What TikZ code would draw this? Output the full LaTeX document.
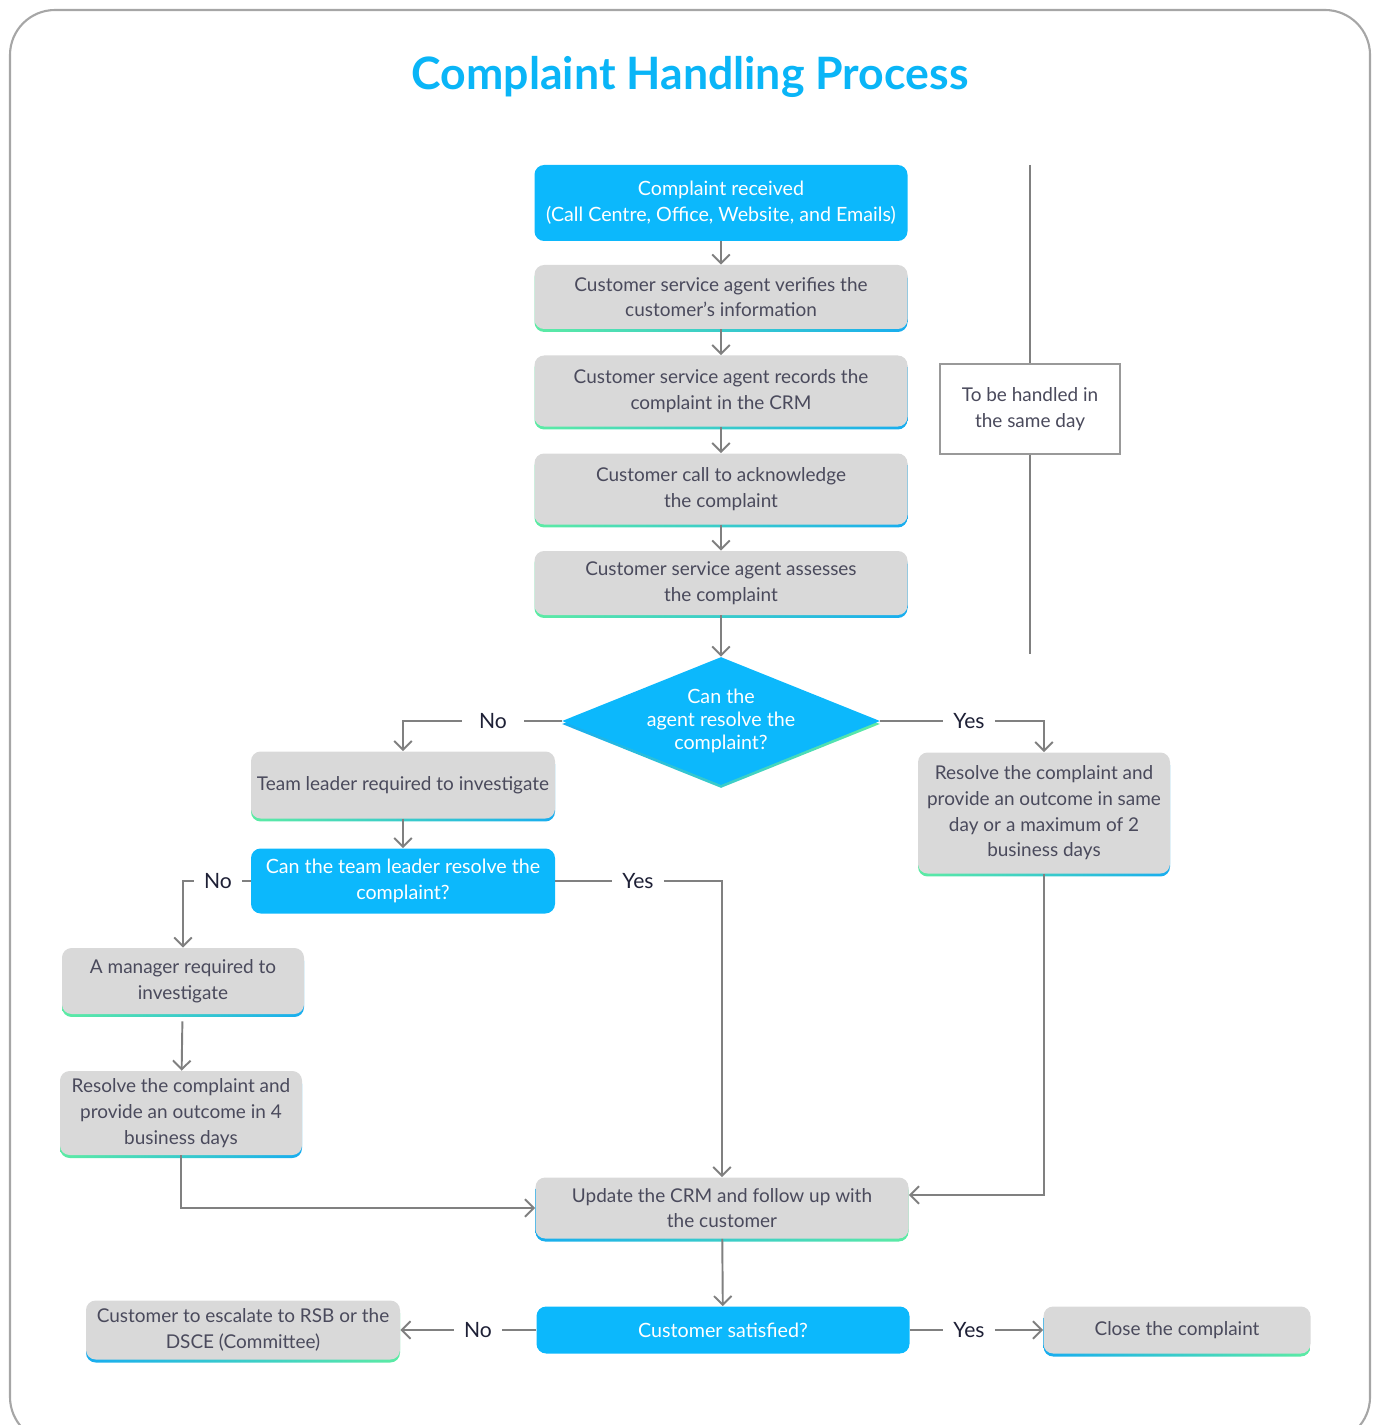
\documentclass[tikz,border=0pt]{standalone}
\usepackage{fontspec}
\setmainfont{Lato}
\usetikzlibrary{shapes.geometric,arrows.meta,shadows}

\definecolor{sky}{HTML}{0CB8FC}
\definecolor{titleblue}{HTML}{0AB5F7}
\definecolor{boxgray}{HTML}{D9D9D9}
\definecolor{txtgray}{HTML}{4A4A5C}
\definecolor{lblink}{HTML}{1E2036}
\definecolor{linegray}{HTML}{808080}
\definecolor{framegray}{HTML}{A6A6A6}
\definecolor{mint}{HTML}{5CEBA4}
\definecolor{edgeblue}{HTML}{18ADEF}

\newcommand{\pxu}{0.02cm}

\tikzset{
  stepbox/.style={rectangle, rounded corners=5.5pt, fill=boxgray, text=txtgray, align=center,
    font=\fontsize{10.8}{14.6}\selectfont, inner sep=0pt},
  askbox/.style={stepbox, fill=sky, text=white, font=\fontsize{11.2}{14.6}\selectfont},
  edgeGB/.style={general shadow={shadow yshift=-1.7pt, left color=mint, right color=edgeblue}},
  edgeBG/.style={general shadow={shadow yshift=-1.7pt, left color=edgeblue, right color=mint}},
  decide/.style={diamond, aspect=2.5, fill=sky, text=white, align=center, inner sep=0pt,
    font=\fontsize{11.2}{13}\selectfont},
  notebox/.style={rectangle, draw=linegray!80, line width=0.6pt, fill=white, text=txtgray,
    align=center, font=\fontsize{10.8}{14.6}\selectfont, inner sep=0pt},
  arr/.style={draw=linegray, line width=1.1pt, -{Straight Barb[length=5pt,width=10pt]}},
  link/.style={draw=linegray, line width=0.6pt},
  answer/.style={fill=white, text=lblink, font=\fontsize{12}{13}\selectfont, inner xsep=0.2cm, inner ysep=2pt},
}

\begin{document}
\begin{tikzpicture}[x=0.02cm, y=-0.02cm]
	\useasboundingbox (0,0) rectangle (1376,1425);
	\draw[framegray, line width=1.2pt, rounded corners=0.9cm] (10,10) rectangle (1370,1442);
	
	\node[font=\fontsize{25.4}{30}\selectfont\bfseries, text=titleblue] (T) at (690,77) {Complaint Handling Process};
	
	% main column
	\node[askbox, minimum width=373*\pxu, minimum height=76*\pxu] (A) at (721,203) {Complaint received\\(Call Centre, Office, Website, and Emails)};
	\node[stepbox, edgeGB, minimum width=373*\pxu, minimum height=64*\pxu] (B) at (721,297) {Customer service agent verifies the\\customer's information};
	\node[stepbox, edgeGB, minimum width=373*\pxu, minimum height=71*\pxu] (C) at (721,391) {Customer service agent records the\\complaint in the CRM};
	\node[stepbox, edgeGB, minimum width=373*\pxu, minimum height=71*\pxu] (D) at (721,489) {Customer call to acknowledge\\the complaint};
	\node[stepbox, edgeGB, minimum width=373*\pxu, minimum height=64*\pxu] (E) at (721,583) {Customer service agent assesses\\the complaint};
	\node[decide, edgeBG, minimum width=318*\pxu, minimum height=128*\pxu] (F) at (721,721) {Can the\\agent resolve the\\complaint?};
	
	% left branch
	\node[stepbox, edgeGB, minimum width=304*\pxu, minimum height=67*\pxu] (G) at (403,785) {Team leader required to investigate};
	\node[askbox, minimum width=304*\pxu, minimum height=65*\pxu] (H) at (403,881) {Can the team leader resolve the\\complaint?};
	\node[stepbox, edgeGB, minimum width=242*\pxu, minimum height=66*\pxu] (I) at (183,981) {A manager required to\\investigate};
	\node[stepbox, edgeGB, minimum width=242*\pxu, minimum height=84*\pxu] (J) at (181,1113) {Resolve the complaint and\\provide an outcome in 4\\business days};
	
	% right branch
	\node[stepbox, edgeGB, minimum width=252*\pxu, minimum height=121*\pxu] (K) at (1044,813) {Resolve the complaint and\\provide an outcome in same\\day or a maximum of 2\\business days};
	
	% bottom
	\node[stepbox, edgeBG, minimum width=373*\pxu, minimum height=61*\pxu] (L) at (722,1208) {Update the CRM and follow up with\\the customer};
	\node[askbox, minimum width=373*\pxu, minimum height=47*\pxu] (M) at (723,1330) {Customer satisfied?};
	\node[stepbox, edgeBG, minimum width=314*\pxu, minimum height=59*\pxu] (N) at (243,1330) {Customer to escalate to RSB or the\\DSCE (Committee)};
	\node[stepbox, edgeBG, minimum width=267*\pxu, minimum height=47*\pxu] (O) at (1177,1330) {Close the complaint};
	
	% same day note
	\coordinate (P1) at (1030,165);
	\coordinate (P2) at (1030,654);
	\node[notebox, minimum width=180*\pxu, minimum height=90*\pxu] (P) at (1030,409) {To be handled in\\the same day};
	\draw[link] (P1) -- (P) -- (P2);
	
	% answers
	\node[answer, inner xsep=0.34cm] (Q1) at (493,721) {No};
	\node[answer] (Q2) at (969,721) {Yes};
	\node[answer] (Q3) at (218,881) {No};
	\node[answer] (Q4) at (638,881) {Yes};
	\node[answer] (Q5) at (478,1330) {No};
	\node[answer] (Q6) at (969,1330) {Yes};
	
	\draw[arr] (A) -- (B);
	\draw[arr] (B) -- (C);
	\draw[arr] (C) -- (D);
	\draw[arr] (D) -- (E);
	\draw[arr] (E) -- (F);
	\draw[arr] (F.west) -- (Q1) -| (G);
	\draw[arr] (F.east) -- (Q2) -| (K);
	\draw[arr] (G) -- (H);
	\draw[arr] (H.west) -- (Q3) -| (I);
	\draw[arr] (H.east) -- (Q4) -| (L);
	\draw[arr, shorten <=0.14cm] (I) -- (J);
	\draw[arr] (J) |- (L.west);
	\draw[arr] (K) |- ([yshift=0.26cm]L.east);
	\draw[arr] (L) -- (M);
	\draw[arr] (M.west) -- (Q5) -- (N);
	\draw[arr] (M.east) -- (Q6) -- (O);
\end{tikzpicture}
\end{document}
